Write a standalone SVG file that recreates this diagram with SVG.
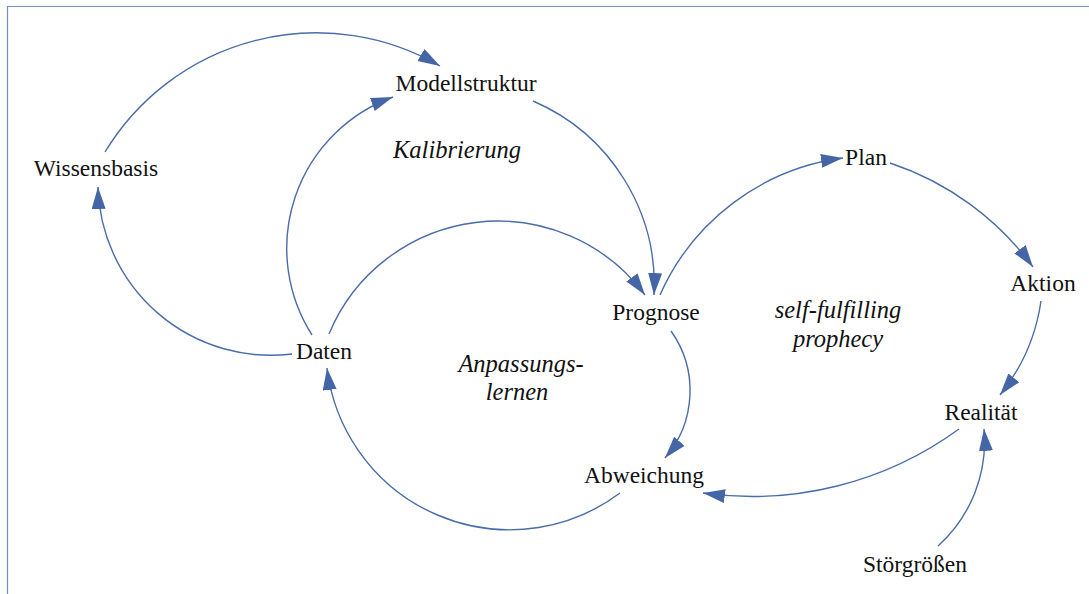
<svg xmlns="http://www.w3.org/2000/svg" width="1089" height="594" viewBox="0 0 1089 594">
<style>
text{font-family:'Liberation Serif','Times New Roman',Times,serif;fill:#111;text-anchor:middle}
.n{font-size:23.5px}
.l{font-size:24.5px;font-style:italic}
.e{fill:none;stroke:#4a6ca8;stroke-width:1.4}
</style>
<defs>
<marker id="ah" markerUnits="userSpaceOnUse" markerWidth="24" markerHeight="16" refX="22" refY="7" orient="auto">
<path d="M0,0 L22,7 L0,14 z" fill="#4566a6"/>
</marker>
</defs>
<rect width="1089" height="594" fill="#fff"/>
<path d="M7.5,594 V6.5 H1089" fill="none" stroke="#6f8fc6" stroke-width="1.2"/>
<g id="connectors">
<path class="e" marker-end="url(#ah)" d="M105,152 A247,247 0 0 1 440,66"/>
<path class="e" marker-end="url(#ah)" d="M292,354 A173,173 0 0 1 98,187"/>
<path class="e" marker-end="url(#ah)" d="M312,335 A161,161 0 0 1 393,97"/>
<path class="e" marker-end="url(#ah)" d="M329,334 A183,183 0 0 1 645,295"/>
<path class="e" marker-end="url(#ah)" d="M533,101 A200,200 0 0 1 654,295"/>
<path class="e" marker-end="url(#ah)" d="M660,295 A233.5,233.5 0 0 1 843,158"/>
<path class="e" marker-end="url(#ah)" d="M890,163 A291,291 0 0 1 1033,267"/>
<path class="e" marker-end="url(#ah)" d="M1041,301 A194,194 0 0 1 1000,395"/>
<path class="e" marker-end="url(#ah)" d="M671,331 A103,103 0 0 1 665,458"/>
<path class="e" marker-end="url(#ah)" d="M620,493 A184,184 0 0 1 327,368"/>
<path class="e" marker-end="url(#ah)" d="M959,429 A351,351 0 0 1 703,493"/>
<path class="e" marker-end="url(#ah)" d="M938,546 A140.6,140.6 0 0 0 984,429"/>
</g>
<g id="wissensbasis"><text class="n" x="96" y="176">Wissensbasis</text></g>
<g id="modellstruktur"><text class="n" x="466" y="91">Modellstruktur</text></g>
<g id="kalibrierung"><text class="l" x="457" y="158">Kalibrierung</text></g>
<g id="plan"><text class="n" x="866" y="165">Plan</text></g>
<g id="aktion"><text class="n" x="1043" y="291">Aktion</text></g>
<g id="prognose"><text class="n" x="656" y="320">Prognose</text></g>
<g id="self-fulfilling"><text class="l" x="838" y="318">self-fulfilling</text><text class="l" x="838" y="347">prophecy</text></g>
<g id="realitaet"><text class="n" x="981" y="420">Realität</text></g>
<g id="stoergroessen"><text class="n" x="915" y="572">Störgrößen</text></g>
<g id="daten"><text class="n" x="324" y="359">Daten</text></g>
<g id="anpassungslernen"><text class="l" x="521" y="372">Anpassungs-</text><text class="l" x="517" y="400">lernen</text></g>
<g id="abweichung"><text class="n" x="644" y="483">Abweichung</text></g>
</svg>
